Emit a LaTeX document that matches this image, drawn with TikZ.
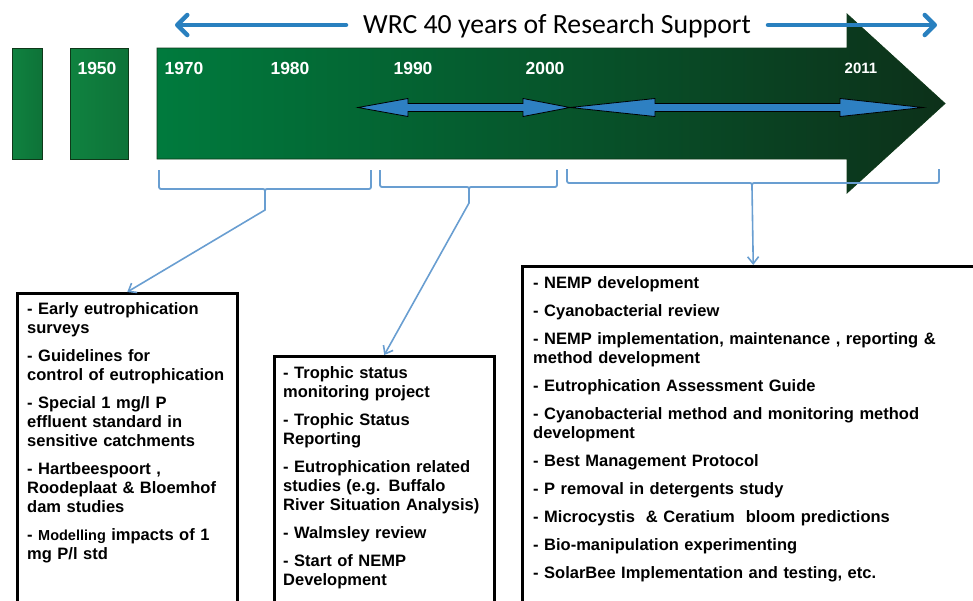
\documentclass[tikz,border=0pt]{standalone}
\usepackage{fontspec}
\setmainfont{Liberation Sans}
\newfontfamily\titlefont{Carlito}
\usetikzlibrary{arrows.meta, calc, positioning}
\definecolor{leafgreen}{rgb}{0.0, 0.48, 0.24}
\definecolor{pinegreen}{rgb}{0.05, 0.19, 0.1}
\definecolor{stubgreen}{rgb}{0.06, 0.51, 0.25}
\definecolor{darkrim}{rgb}{0.06, 0.22, 0.1}
\definecolor{spanblue}{rgb}{0.16, 0.5, 0.75}
\definecolor{periodblue}{rgb}{0.18, 0.5, 0.76}
\definecolor{braceblue}{rgb}{0.41, 0.62, 0.82}
% flat brace: left x, right x, tip x, top y, bottom y
\newcommand{\timebrace}[5]{%
  \draw[bracket, rounded corners=2pt] (#1,#4) |- (#3-4,#5) .. controls (#3,#5) .. (#3,#5+5);
  \draw[bracket, rounded corners=2pt] (#2,#4) |- (#3+4,#5) .. controls (#3,#5) .. (#3,#5+5);}
% two-headed period arrow: left tip, right tip, left head, right head
\newcommand{\periodarrow}[4]{%
  \filldraw[period] (#1,107.5) -- (#1+#3,98.5) -- (#1+#3,103.5) -- (#2-#4,103.5) -- (#2-#4,98.5)
    -- (#2,107.5) -- (#2-#4,116.5) -- (#2-#4,111.5) -- (#1+#3,111.5) -- (#1+#3,116.5) -- cycle;}

\begin{document}
\begin{tikzpicture}[x=1pt, y=-1pt, >={Straight Barb[length=7pt,width=11pt]},
    stub/.style={draw=darkrim, line width=0.8pt, left color=stubgreen, right color=stubgreen!88!black},
    trunk/.style={draw=darkrim, line width=0.8pt, left color=leafgreen, right color=pinegreen},
    year/.style={text=white, font=\fontsize{17.5}{20}\selectfont\bfseries, anchor=base, inner sep=0pt},
    spanarrow/.style={spanblue, line width=4.5pt, line cap=round,
        -{Straight Barb[length=10pt,width=20pt,round]}},
    period/.style={fill=periodblue, draw=black, line width=0.8pt},
    bracket/.style={braceblue, line width=1.8pt},
    feed/.style={braceblue, line width=1.6pt},
    panel/.style={draw=black, line width=2.5pt, fill=white, anchor=north west},
    itemlist/.style={anchor=north west, inner sep=0pt, text width=#1, align=left,
        font=\fontsize{16.5}{19}\selectfont\bfseries}]
\useasboundingbox (0,0) rectangle (973,600);
\clip (0,0) rectangle (973,600);

% Timeline bars
\draw[stub] (12,48) rectangle (42,159);
\draw[stub] (70,48) rectangle (128,159);
\draw[trunk] (157,48) -- (847,48) -- (847,14) -- (945,103.5) -- (847,193) -- (847,159) -- (157,159) -- cycle;

% Years
\node[year] (y1950) at (97,74) {1950};
\node[year] (y1970) at (184,74) {1970};
\node[year] (y1980) at (290,74) {1980};
\node[year] (y1990) at (413,74) {1990};
\node[year] (y2000) at (545,74) {2000};
\node[year, font=\fontsize{15}{18}\selectfont\bfseries] (y2011) at (861,73) {2011};

% Period arrows inside the bar
\periodarrow{358}{570}{50}{47}
\periodarrow{570}{923}{85}{83}

% Title with span arrows
\node[font=\titlefont\fontsize{27.7}{32}\selectfont, anchor=base, inner xsep=17pt] (title) at (557,33)
    {WRC 40 years of Research Support};
\coordinate (spanL) at (175,25);
\coordinate (spanR) at (937,25);
\draw[spanarrow] (title.west |- spanL) -- (spanL);
\draw[spanarrow] (title.east |- spanR) -- (spanR);

% Braces under the bar
\timebrace{159}{371}{265}{170}{189}
\timebrace{380}{557}{469}{170}{187}
\timebrace{567}{939}{752}{169}{183}
\coordinate (tip1) at (265,194);
\coordinate (tip2) at (469,192);
\coordinate (tip3) at (752,188);

% Panels
\node[panel, minimum width=220pt, minimum height=330pt] (early) at (16,292) {};
\node[panel, minimum width=220pt, minimum height=270pt] (trophic) at (273,355) {};
\node[panel, minimum width=462pt, minimum height=360pt] (nemp) at (521,265) {};

\node[itemlist=210pt] (earlylist) at ([xshift=11pt,yshift=-10pt]early.north west)
    {- Early eutrophication\\surveys\\[9pt]
     - Guidelines for\\control of eutrophication\\[9pt]
     - Special 1 mg/l P\\effluent standard in\\sensitive catchments\\[9pt]
     - Hartbeespoort ,\\Roodeplaat \& Bloemhof\\dam studies\\[9pt]
     - {\fontsize{14.5}{19}\selectfont Modelling} impacts of 1\\mg P/l std};
\node[itemlist=210pt] (trophiclist) at ([xshift=10pt,yshift=-11pt]trophic.north west)
    {- Trophic status\\monitoring project\\[9pt]
     - Trophic Status\\Reporting\\[9pt]
     - Eutrophication related\\studies (e.g. Buffalo\\River Situation Analysis)\\[9pt]
     - Walmsley review\\[9pt]
     - Start of NEMP\\Development};
\node[itemlist=430pt] (nemplist) at ([xshift=12pt,yshift=-11pt]nemp.north west)
    {- NEMP development\\[9pt]
     - Cyanobacterial review\\[9pt]
     - NEMP implementation, maintenance , reporting \&\\method development\\[9pt]
     - Eutrophication Assessment Guide\\[9pt]
     - Cyanobacterial method and monitoring method\\development\\[9pt]
     - Best Management Protocol\\[9pt]
     - P removal in detergents study\\[9pt]
     - Microcystis \ \& Ceratium \ bloom predictions\\[9pt]
     - Bio-manipulation experimenting\\[9pt]
     - SolarBee Implementation and testing, etc.};

% Links from braces to panels
\draw[->, feed] (tip1) -- ++(0,16) -- (early.north);
\draw[->, feed] (tip2) -- ++(0,11) -- (trophic.north);
\draw[->, feed] (tip3) -- (nemp.north);
\end{tikzpicture}
\end{document}
